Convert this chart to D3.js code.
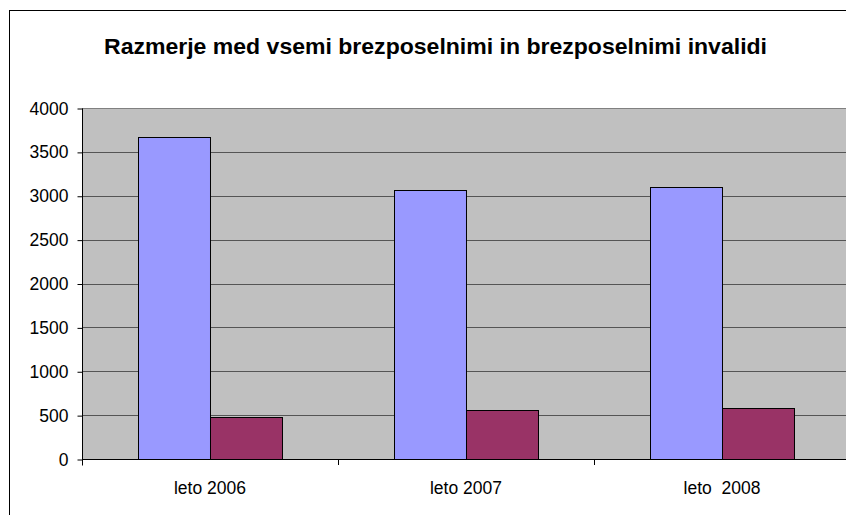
<!DOCTYPE html>
<html>
<head>
<meta charset="utf-8">
<script src="https://cdn.jsdelivr.net/npm/d3@7"></script>
<style>
  body { margin: 0; background: #fff; }
  svg { display: block; font-family: "Liberation Sans", Arial, sans-serif; }
</style>
</head>
<body>
<div id="chart"></div>
<script>
// podatki
const categories = ['leto 2006', 'leto 2007', 'leto  2008'];
const series = ['vsi brezposelni', 'brezposelni invalidi'];
const vsi = [3670, 3066, 3103];
const invalidi = [475, 558, 578];
const yTicks = [0, 500, 1000, 1500, 2000, 2500, 3000, 3500, 4000];
const colors = ['#9999FF', '#993366'];

const width = 846, height = 515;
const plot = { left: 82, top: 108, right: 850, bottom: 459 };

const svg = d3.select('#chart').append('svg').attr('width', width).attr('height', height);

// okvir grafa
svg.append('rect').attr('x', 9.5).attr('y', 10.5).attr('width', 900).attr('height', 600)
  .attr('fill', '#fff').attr('stroke', '#000').attr('stroke-width', 1);

svg.append('text').attr('x', 435.5).attr('y', 54).attr('text-anchor', 'middle')
  .attr('font-size', '22px').attr('font-weight', 'bold').attr('fill', '#000')
  .attr('textLength', 663).attr('lengthAdjust', 'spacingAndGlyphs')
  .text('Razmerje med vsemi brezposelnimi in brezposelnimi invalidi');

const x0 = d3.scaleBand().domain(categories).range([plot.left, plot.right]).padding(0);
const x1 = d3.scaleBand().domain(series).range([0, x0.bandwidth()]).paddingInner(0).paddingOuter(0.778);
const y = d3.scaleLinear().domain([0, 4000]).range([plot.bottom, plot.top]);

svg.append('rect').attr('x', plot.left).attr('y', plot.top)
  .attr('width', plot.right - plot.left).attr('height', plot.bottom - plot.top).attr('fill', '#C0C0C0');

// mreza
svg.append('g').selectAll('line').data(yTicks.filter(d => d > 0)).enter().append('line')
  .attr('x1', plot.left).attr('x2', plot.right)
  .attr('y1', d => Math.round(y(d)) + 0.5).attr('y2', d => Math.round(y(d)) + 0.5)
  .attr('stroke', d => d === 4000 ? '#808080' : '#555').attr('stroke-width', 1);

// stolpci
const rows = categories.map((c, i) => ({ cat: c, vals: [vsi[i], invalidi[i]] }));
const grp = svg.append('g').selectAll('g').data(rows).enter().append('g')
  .attr('transform', d => `translate(${x0(d.cat)},0)`);
grp.selectAll('rect').data(d => d.vals.map((v, j) => ({ s: series[j], v, j }))).enter().append('rect')
  .attr('x', d => Math.round(x1(d.s)) + 0.5)
  .attr('y', d => Math.round(y(d.v)) + 0.5)
  .attr('width', x1.bandwidth())
  .attr('height', d => Math.round(y(0)) - Math.round(y(d.v)))
  .attr('fill', d => colors[d.j]).attr('stroke', '#000').attr('stroke-width', 1);

// os y
const yAxis = d3.axisLeft(y).tickValues(yTicks).tickSize(5).tickPadding(9).tickFormat(d3.format('d'));
const gy = svg.append('g').attr('transform', `translate(${plot.left + 0.5},0.5)`).call(yAxis);
gy.select('.domain').attr('d', `M0,${plot.top}V${plot.bottom + 6}`).attr('stroke', '#000');
gy.selectAll('.tick line').attr('stroke', '#000');
gy.selectAll('.tick text').attr('font-size', '17.5px').attr('font-family', '"Liberation Sans", Arial, sans-serif').attr('fill', '#000');

// os x
svg.append('line').attr('x1', plot.left).attr('x2', plot.right)
  .attr('y1', plot.bottom + 0.5).attr('y2', plot.bottom + 0.5).attr('stroke', '#000');
svg.append('g').selectAll('line').data(categories).enter().append('line')
  .attr('x1', d => x0(d) + 0.5).attr('x2', d => x0(d) + 0.5)
  .attr('y1', plot.bottom).attr('y2', plot.bottom + 6).attr('stroke', '#000');
svg.append('g').selectAll('text').data(categories).enter().append('text')
  .attr('x', d => x0(d) + x0.bandwidth() / 2).attr('y', 494)
  .attr('text-anchor', 'middle').attr('font-size', '17.5px').attr('fill', '#000')
  .style('white-space', 'pre')
  .text(d => d);
</script>
</body>
</html>
